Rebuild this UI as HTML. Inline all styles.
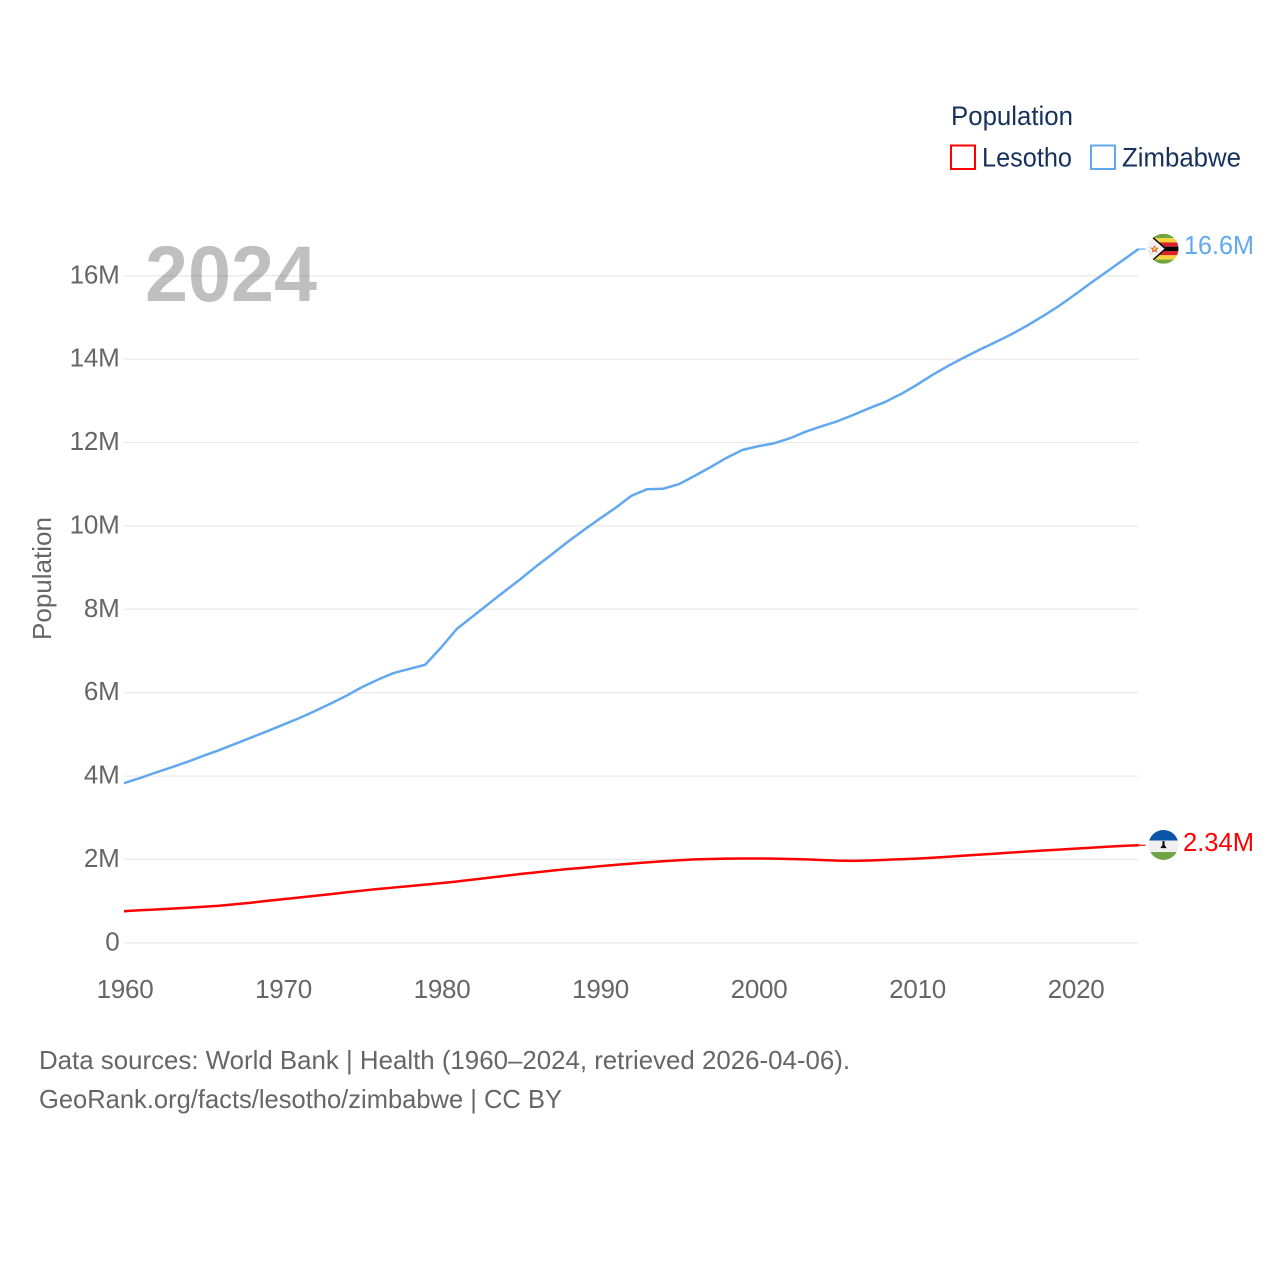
<!DOCTYPE html>
<html lang="en">
<head>
<meta charset="utf-8">
<title>Population: Lesotho and Zimbabwe</title>
<style>
  html, body { margin: 0; padding: 0; background: #fff; }
  svg { display: block; }
  text { font-family: "Liberation Sans", sans-serif; }
  .tick { font-size: 26px; fill: #666; letter-spacing: -0.25px; }
  .legend { font-size: 26.5px; fill: #16325c; }
  .foot { font-size: 26px; fill: #666; }
  .val { font-size: 26px; }
</style>
</head>
<body>
<svg id="chart" xmlns="http://www.w3.org/2000/svg" width="1280" height="1280" viewBox="0 0 1280 1280">
  <defs>
    <clipPath id="flag-clip"><circle cx="0" cy="0" r="15"></circle></clipPath>
  </defs>
  <rect width="1280" height="1280" fill="#fff"></rect>

  <g id="grid"></g>
  <g id="yticks"></g>
  <g id="xticks"></g>

  <text x="145" y="301" font-size="79" font-weight="700" fill="#000" fill-opacity="0.25" textLength="172" lengthAdjust="spacingAndGlyphs">2024</text>

  <text transform="translate(51 640) rotate(-90)" font-size="26" fill="#666" textLength="123" lengthAdjust="spacingAndGlyphs">Population</text>

  <g id="series"></g>

  <g id="flag-zimbabwe">
    <g clip-path="url(#flag-clip)">
      <rect x="-16" y="-15" width="32" height="4.3" fill="#6fa53c"></rect>
      <rect x="-16" y="-10.7" width="32" height="4.3" fill="#f5d33f"></rect>
      <rect x="-16" y="-6.4" width="32" height="4.3" fill="#d8232a"></rect>
      <rect x="-16" y="-2.1" width="32" height="4.3" fill="#000"></rect>
      <rect x="-16" y="2.2" width="32" height="4.3" fill="#d8232a"></rect>
      <rect x="-16" y="6.5" width="32" height="4.3" fill="#f5d33f"></rect>
      <rect x="-16" y="10.8" width="32" height="4.2" fill="#6fa53c"></rect>
      <path d="M-16 -16 L2 0 L-16 16 Z" fill="#f1f1f1" stroke="#000" stroke-width="1.4"></path>
      <polygon points="-9,-4 -7.8,-1 -4.6,-1 -7,1 -6.2,4 -9,2.3 -11.8,4 -11,1 -13.4,-1 -10.2,-1" fill="#e9603a"></polygon>
      <circle cx="-9" cy="0" r="1.3" fill="#f5d33f"></circle>
    </g>
  </g>

  <g id="flag-lesotho">
    <g clip-path="url(#flag-clip)">
      <rect x="-16" y="-16" width="32" height="11.6" fill="#0a55a8"></rect>
      <rect x="-16" y="-4.4" width="32" height="11.5" fill="#f0f0f0"></rect>
      <rect x="-16" y="7.1" width="32" height="9" fill="#6fa343"></rect>
      <path d="M-1 -4 L1 -4 L1.1 0 L3.2 3.2 L-3.2 3.2 L-1.1 0 Z" fill="#111"></path>
    </g>
  </g>

  <text id="label-zimbabwe" class="val" fill="#62a8ee" textLength="70" lengthAdjust="spacingAndGlyphs"></text>
  <text id="label-lesotho" class="val" fill="#ff0000" textLength="71" lengthAdjust="spacingAndGlyphs"></text>

  <g>
    <text class="legend" x="951" y="125" textLength="122" lengthAdjust="spacingAndGlyphs">Population</text>
    <g>
      <rect x="951" y="145.5" width="24" height="23.5" fill="#fff" stroke="#ff0000" stroke-width="2"></rect>
      <text class="legend" x="982" y="166.5" textLength="90" lengthAdjust="spacingAndGlyphs">Lesotho</text>
    </g>
    <g>
      <rect x="1091" y="145.5" width="24" height="23.5" fill="#fff" stroke="#62a8ee" stroke-width="2"></rect>
      <text class="legend" x="1122" y="166.5" textLength="119" lengthAdjust="spacingAndGlyphs">Zimbabwe</text>
    </g>
  </g>

  <text class="foot" x="39" y="1069" textLength="811" lengthAdjust="spacingAndGlyphs">Data sources: World Bank | Health (1960–2024, retrieved 2026-04-06).</text>
  <text class="foot" x="39" y="1108" textLength="523" lengthAdjust="spacingAndGlyphs">GeoRank.org/facts/lesotho/zimbabwe | CC BY</text>
</svg>

<script>
const startYear = 1960;
const yTickValues = [0, 2, 4, 6, 8, 10, 12, 14, 16];
const yTickLabels = ['0', '2M', '4M', '6M', '8M', '10M', '12M', '14M', '16M'];
const xTickYears = [1960, 1970, 1980, 1990, 2000, 2010, 2020];
const zimbabwePopulation = [
  3.83, 3.95, 4.085, 4.21, 4.34, 4.485, 4.62, 4.77, 4.92, 5.07,
  5.225, 5.38, 5.55, 5.73, 5.92, 6.13, 6.31, 6.47, 6.57, 6.67,
  7.08, 7.53, 7.83, 8.13, 8.43, 8.72, 9.03, 9.32, 9.62, 9.9,
  10.17, 10.43, 10.72, 10.88, 10.89, 11.0, 11.2, 11.41, 11.63, 11.82,
  11.91, 11.98, 12.1, 12.26, 12.39, 12.51, 12.66, 12.82, 12.97, 13.16,
  13.38, 13.62, 13.84, 14.04, 14.23, 14.41, 14.6, 14.81, 15.04, 15.28,
  15.55, 15.83, 16.1, 16.37, 16.64
];
const lesothoPopulation = [
  0.758, 0.78, 0.80, 0.82, 0.84, 0.865, 0.89, 0.925, 0.96, 1.005,
  1.045, 1.085, 1.125, 1.165, 1.21, 1.25, 1.29, 1.325, 1.36, 1.395,
  1.43, 1.47, 1.515, 1.56, 1.605, 1.65, 1.69, 1.73, 1.77, 1.80,
  1.835, 1.868, 1.9, 1.93, 1.955, 1.98, 2.0, 2.01, 2.02, 2.022,
  2.023, 2.02, 2.01, 2.0, 1.985, 1.97, 1.965, 1.975, 1.99, 2.005,
  2.02, 2.04, 2.065, 2.09, 2.115, 2.14, 2.165, 2.19, 2.215, 2.235,
  2.26, 2.28, 2.305, 2.325, 2.34
];

const SVG_NS = 'http://www.w3.org/2000/svg';
const plotLeft = 124;
const plotRight = 1138.5;
const yZero = 942.8;
const pxPerMillion = 41.69;
const lastYear = 2024;

function xScale(year) {
  return plotLeft + (year - startYear) * (plotRight - plotLeft) / (lastYear - startYear);
}
function yScale(millions) {
  return yZero - millions * pxPerMillion;
}
function make(tag, parent) {
  const el = document.createElementNS(SVG_NS, tag);
  parent.appendChild(el);
  return el;
}
function formatEnd(millions) {
  return millions.toPrecision(3) + 'M';
}

const gridGroup = document.getElementById('grid');
const yTickGroup = document.getElementById('yticks');
const xTickGroup = document.getElementById('xticks');
const seriesGroup = document.getElementById('series');

yTickValues.forEach(function (value, i) {
  const line = make('line', gridGroup);
  
  
  line.setAttribute('x1', plotLeft);
  line.setAttribute('x2', plotRight);
  line.setAttribute('y1', yScale(value));
  line.setAttribute('y2', yScale(value));
  line.setAttribute('stroke', '#e9e9e9');
  line.setAttribute('stroke-width', '1.2');

  const label = make('text', yTickGroup);
  
  
  label.setAttribute('class', 'tick');
  label.setAttribute('x', 119.5);
  label.setAttribute('y', yScale(value) + 7.5);
  label.setAttribute('text-anchor', 'end');
  label.textContent = yTickLabels[i];
});

xTickYears.forEach(function (year) {
  const label = make('text', xTickGroup);
  
  
  label.setAttribute('class', 'tick');
  label.setAttribute('x', xScale(year) + 1);
  label.setAttribute('y', 998);
  label.setAttribute('text-anchor', 'middle');
  label.textContent = String(year);
});

function drawSeries(values, color, lineName, connectorName) {
  const points = values.map(function (v, i) {
    return xScale(startYear + i).toFixed(2) + ',' + yScale(v).toFixed(2);
  }).join(' ');
  const line = make('polyline', seriesGroup);
  
  
  line.setAttribute('points', points);
  line.setAttribute('fill', 'none');
  line.setAttribute('stroke', color);
  line.setAttribute('stroke-width', '2.5');
  line.setAttribute('stroke-linejoin', 'round');

  const endY = yScale(values[values.length - 1]);
  const connector = make('line', seriesGroup);
  
  
  connector.setAttribute('x1', plotRight);
  connector.setAttribute('x2', plotRight + 7);
  connector.setAttribute('y1', endY);
  connector.setAttribute('y2', endY);
  connector.setAttribute('stroke', color);
  connector.setAttribute('stroke-width', '1.2');
}

drawSeries(zimbabwePopulation, '#62a8ee', 'zimbabwe-line', 'zimbabwe-connector');
drawSeries(lesothoPopulation, '#ff0000', 'lesotho-line', 'lesotho-connector');

const zimEnd = zimbabwePopulation[zimbabwePopulation.length - 1];
const lesEnd = lesothoPopulation[lesothoPopulation.length - 1];

document.getElementById('flag-zimbabwe').setAttribute('transform', 'translate(1163.5 ' + (yScale(zimEnd) - 0.3) + ')');
document.getElementById('flag-lesotho').setAttribute('transform', 'translate(1163.5 ' + (yScale(lesEnd) - 0.3) + ')');

const zimLabel = document.getElementById('label-zimbabwe');
zimLabel.setAttribute('x', 1184);
zimLabel.setAttribute('y', yScale(zimEnd) + 5);
zimLabel.textContent = formatEnd(zimEnd);

const lesLabel = document.getElementById('label-lesotho');
lesLabel.setAttribute('x', 1183);
lesLabel.setAttribute('y', yScale(lesEnd) + 5.6);
lesLabel.textContent = formatEnd(lesEnd);
</script>
</body>
</html>
